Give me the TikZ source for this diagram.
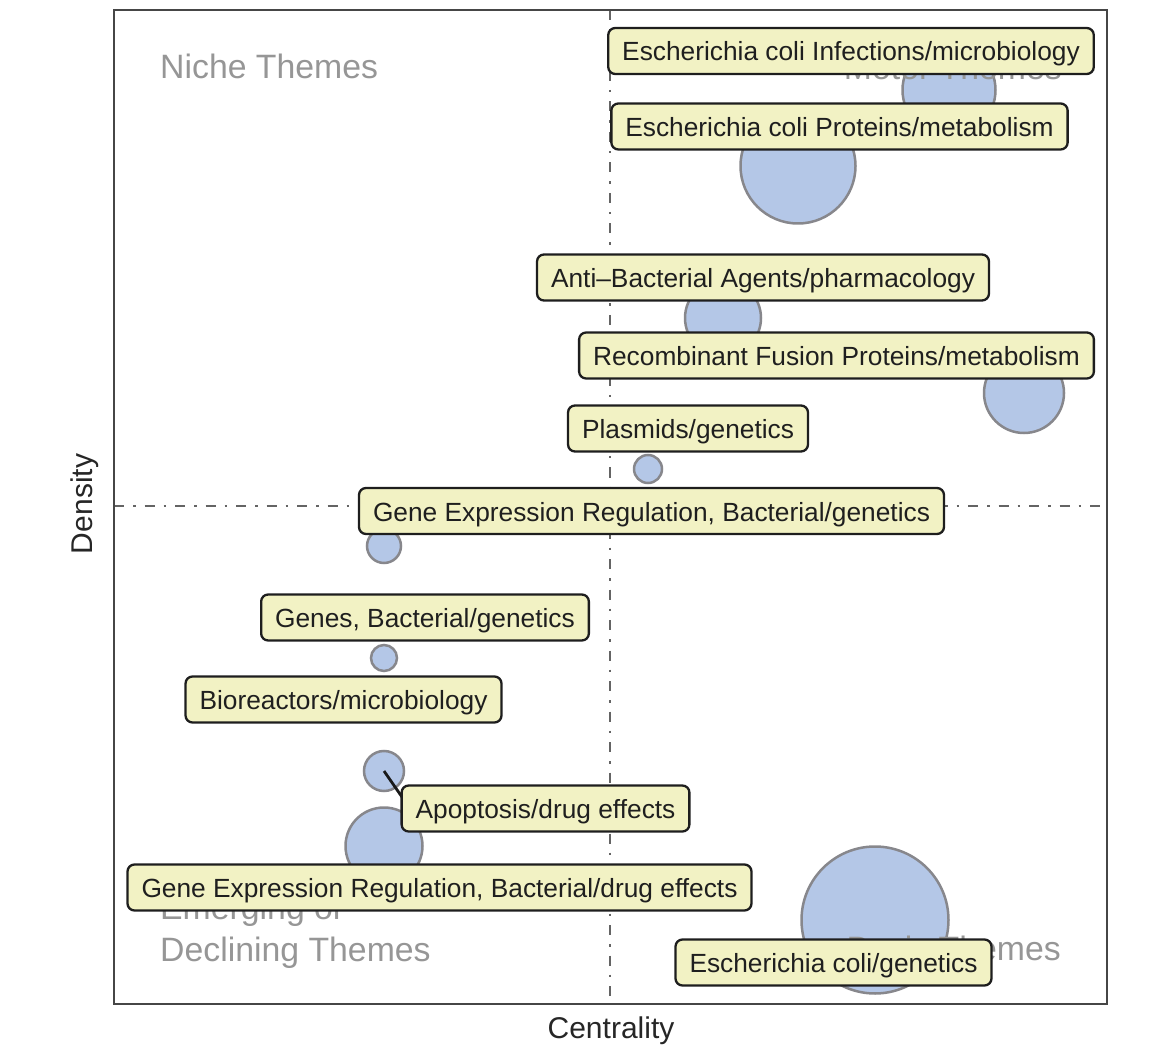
\documentclass[tikz,border=0pt]{standalone}
\usepackage{fontspec}
\setmainfont{Liberation Sans}
\usetikzlibrary{calc}
\definecolor{bubfill}{RGB}{180,199,231}
\definecolor{bubline}{RGB}{135,135,140}
\definecolor{labfill}{RGB}{242,242,196}
\definecolor{labline}{RGB}{30,30,30}
\definecolor{themegray}{RGB}{150,150,150}
\definecolor{framecol}{RGB}{70,70,70}
\definecolor{refcol}{RGB}{100,100,100}
\tikzset{
  bubble/.style={circle, draw=bubline, line width=2.5pt, fill=bubfill, inner sep=0pt},
  labbox/.style={draw=labline, line width=2.3pt, fill=labfill, rounded corners=7pt,
    inner xsep=14pt, inner ysep=0pt, minimum height=46pt, text height=21pt, text depth=1pt,
    text=black!88, font=\fontsize{26.3}{30}\selectfont},
  themetext/.style={text=themegray, inner sep=0pt, font=\fontsize{33.8}{38}\selectfont},
  axistext/.style={text=black!85, inner sep=0pt, font=\fontsize{30}{34}\selectfont},
  refline/.style={draw=refcol, line width=2.6pt, dash pattern=on 10pt off 9pt on 2.5pt off 9pt},
  framebox/.style={draw=framecol, line width=1.8pt}
}
\begin{document}
\begin{tikzpicture}[x=1pt,y=-1pt]
\useasboundingbox (0,0) rectangle (1165,1048);
% frame and reference lines
\coordinate (ftl) at (114,10);
\coordinate (fbr) at (1107,1004);
\coordinate (vt) at (610,10);
\coordinate (vb) at (610,1004);
\coordinate (hl) at (114,506);
\coordinate (hr) at (1107,506);
\draw[refline] (vt) -- (vb);
\draw[refline] (hl) -- (hr);
\draw[framebox] (ftl) rectangle (fbr);
% bubbles
\node[bubble, minimum size=93pt] (bInf) at (949,90) {};
\node[bubble, minimum size=115pt] (bProt) at (798,166) {};
\node[bubble, minimum size=76pt] (bAnti) at (723,318) {};
\node[bubble, minimum size=80pt] (bRec) at (1024,393) {};
\node[bubble, minimum size=28pt] (bPlas) at (648,469) {};
\node[bubble, minimum size=34pt] (bGER) at (384,546) {};
\node[bubble, minimum size=26pt] (bGenes) at (384,658) {};
\node[bubble, minimum size=40pt] (bApo) at (384,771) {};
\node[bubble, minimum size=77pt] (bGERd) at (384,846) {};
\node[bubble, minimum size=147pt] (bEcg) at (875,920) {};
% quadrant texts
\node[themetext, anchor=base west] (tNiche) at (160,79) {Niche Themes};
\node[themetext, anchor=base east] (tMotor) at (1062,80) {Motor Themes};
\node[themetext, anchor=base west] (tEmerg) at (160,919) {Emerging or};
\node[themetext, anchor=base west] (tDecl) at (160,961) {Declining Themes};
\node[themetext, anchor=base east] (tBasic) at (1061,960) {Basic Themes};
% axis titles
\node[axistext, anchor=base] (xlab) at (611,1038) {Centrality};
\node[axistext, anchor=base, rotate=90] (ylab) at (92,504) {Density};
% labels
\node[labbox] (lInf) at (851,51) {Escherichia coli Infections/microbiology};
\node[labbox] (lProt) at (839.5,126.5) {Escherichia coli Proteins/metabolism};
\node[labbox] (lAnti) at (763,277.5) {Anti–Bacterial Agents/pharmacology};
\node[labbox] (lRec) at (836.5,355.5) {Recombinant Fusion Proteins/metabolism};
\node[labbox] (lPlas) at (688,428.5) {Plasmids/genetics};
\node[labbox] (lGER) at (651.5,511) {Gene Expression Regulation, Bacterial/genetics};
\node[labbox] (lGenes) at (425,617.5) {Genes, Bacterial/genetics};
\node[labbox] (lBio) at (343.5,699.5) {Bioreactors/microbiology};
\coordinate (apoEnd) at (402,797);
\draw[line width=2.8pt, black!90] (bApo.center) -- (apoEnd);
\node[labbox] (lApo) at (545.5,808.5) {Apoptosis/drug effects};
\node[labbox] (lGERd) at (439.5,887.5) {Gene Expression Regulation, Bacterial/drug effects};
\node[labbox] (lEcg) at (833.5,962.5) {Escherichia coli/genetics};
\end{tikzpicture}
\end{document}
